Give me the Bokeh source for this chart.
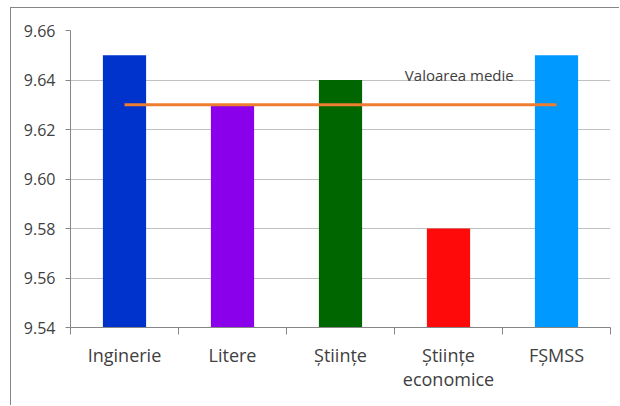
from bokeh.plotting import figure
from bokeh.models import Range1d, FixedTicker
from bokeh.core.properties import value
from bokeh.embed import file_html
from bokeh.resources import INLINE

categories = ["Inginerie", "Litere", "Științe", "Științe\neconomice", "FȘMSS"]
values = [9.65, 9.63, 9.64, 9.58, 9.65]
colors = ["#0033CC", "#8A00EA", "#006600", "#FF0A0A", "#0099FF"]
average = 9.63
average_label = "Valoarea medie"
yticks = [9.54, 9.56, 9.58, 9.60, 9.62, 9.64, 9.66]
ytick_labels = ["9.54", "9.56", "9.58", "9.60", "9.62", "9.64", "9.66"]

FONT = "Open Sans"
TXT = "#404040"
AX = "#868686"

n = len(categories)
xs = [i + 0.5 for i in range(n)]

p = figure(width=609, height=398, output_backend="svg", toolbar_location=None,
           x_range=Range1d(0, n), y_range=Range1d(yticks[0], yticks[-1]),
           min_border_left=59, min_border_right=10, min_border_top=22, min_border_bottom=79)
p.outline_line_color = None
p.background_fill_color = "white"
p.border_fill_color = "white"
p.styles = {"margin-left": "10px", "margin-top": "7px",
            "border-left": "1px solid #868686", "border-top": "1px solid #868686"}

p.vbar(x=xs, top=values, bottom=yticks[0], width=0.4, color=colors, line_color=None)
p.line(x=[xs[0], xs[-1]], y=[average, average], line_color="#ED7D31", line_width=3)
p.text(x=[3.6], y=[average + 0.012], text=[average_label], text_font=value(FONT),
       text_font_size="15px", text_color=TXT, text_align="center", text_baseline="alphabetic")

# y axis
p.yaxis.ticker = FixedTicker(ticks=yticks, minor_ticks=[])
p.yaxis.major_label_overrides = {t: l for t, l in zip(yticks, ytick_labels)}
p.yaxis.axis_line_color = AX
p.yaxis.major_tick_line_color = AX
p.yaxis.major_tick_out = 5
p.yaxis.major_tick_in = 0
p.yaxis.minor_tick_line_color = None
p.yaxis.major_label_standoff = 10
p.yaxis.major_label_text_font = FONT
p.yaxis.major_label_text_font_size = "16px"
p.yaxis.major_label_text_color = TXT

# x axis
p.xaxis.ticker = FixedTicker(ticks=xs, minor_ticks=list(range(n + 1)))
p.xaxis.major_label_overrides = {x: c for x, c in zip(xs, categories)}
p.xaxis.axis_line_color = AX
p.xaxis.major_tick_line_color = None
p.xaxis.major_tick_out = 0
p.xaxis.major_tick_in = 0
p.xaxis.minor_tick_line_color = AX
p.xaxis.minor_tick_out = 7
p.xaxis.minor_tick_in = 0
p.xaxis.major_label_standoff = 8
p.xaxis.major_label_text_font = FONT
p.xaxis.major_label_text_font_size = "18px"
p.xaxis.major_label_text_line_height = 1.0
p.xaxis.major_label_text_color = TXT

p.xgrid.grid_line_color = None
p.ygrid.grid_line_color = "#C0C0C0"
p.ygrid.grid_line_width = 1

open("out.html", "w").write(file_html(p, INLINE))
